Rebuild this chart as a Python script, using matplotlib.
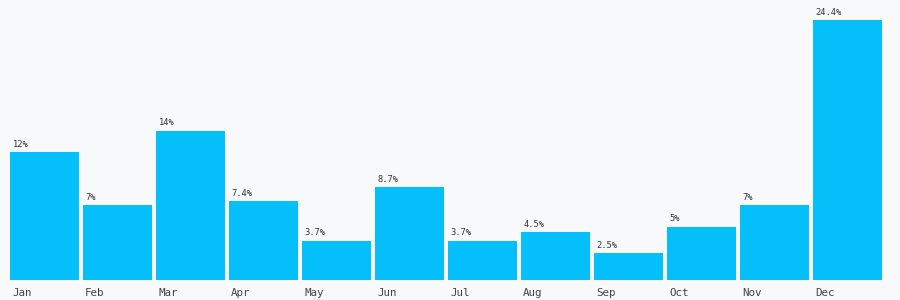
import matplotlib.pyplot as plt

months = ['Jan', 'Feb', 'Mar', 'Apr', 'May', 'Jun', 'Jul', 'Aug', 'Sep', 'Oct', 'Nov', 'Dec']
values = [12, 7, 14, 7.4, 3.7, 8.7, 3.7, 4.5, 2.5, 5, 7, 24.4]
labels = ['12%', '7%', '14%', '7.4%', '3.7%', '8.7%', '3.7%', '4.5%', '2.5%', '5%', '7%', '24.4%']

bg = '#f8f9fb'
fig = plt.figure(figsize=(9, 3), dpi=100, facecolor=bg)
ax = fig.add_axes([10 / 900, 20 / 300, 876 / 900, 260 / 300])
ax.set_facecolor(bg)

x = list(range(len(months)))
ax.bar(x, values, width=69 / 73, align='edge', color='#04bffa')
ax.set_xlim(0, 12)
ax.set_ylim(0, 24.4)

for i, (v, lab) in enumerate(zip(values, labels)):
    ax.annotate(lab, (i, v), xytext=(2, 2.5), textcoords='offset points',
                fontsize=6.3, family='DejaVu Sans Mono', color='#333333',
                ha='left', va='bottom')
    ax.annotate(months[i], (i, 0), xytext=(1.5, -5.5), textcoords='offset points',
                fontsize=7.8, family='DejaVu Sans Mono', color='#444444',
                ha='left', va='top', annotation_clip=False)

ax.set_xticks([])
ax.set_yticks([])
for s in ax.spines.values():
    s.set_visible(False)

plt.savefig('out.png', dpi=100, facecolor=bg)
